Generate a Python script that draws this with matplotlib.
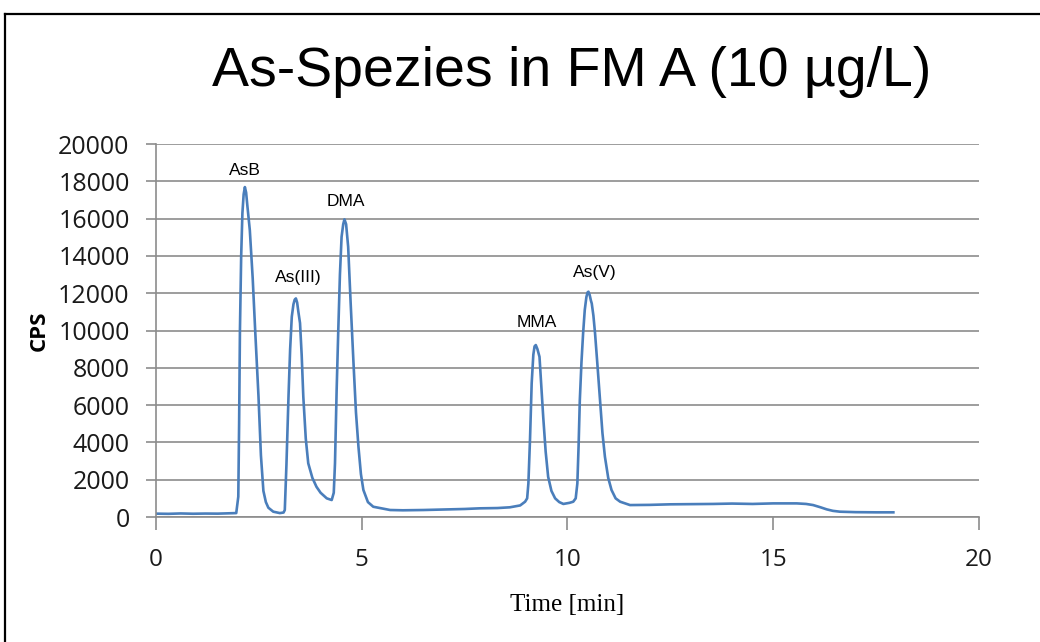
import matplotlib.pyplot as plt
from matplotlib.lines import Line2D

# Chromatogramm-Punkte
time_min = [0.0, 0.3, 0.6, 0.9, 1.2, 1.5, 1.8, 1.95,
            2.0, 2.02, 2.04, 2.07, 2.10, 2.13, 2.16, 2.19, 2.22, 2.28, 2.35, 2.41, 2.49, 2.55, 2.61, 2.67, 2.73, 2.85, 3.01,
            3.10, 3.13, 3.17, 3.22, 3.26, 3.30, 3.34, 3.37, 3.40, 3.43, 3.46, 3.50, 3.54, 3.58, 3.64, 3.70, 3.80, 3.90, 4.00, 4.15, 4.27,
            4.32, 4.35, 4.39, 4.43, 4.47, 4.51, 4.55, 4.58, 4.62, 4.67, 4.73, 4.80, 4.86, 4.92, 4.98, 5.04, 5.15, 5.28, 5.69,
            6.0, 6.5, 7.0, 7.5, 7.87, 8.3, 8.60, 8.85, 8.97,
            9.02, 9.05, 9.09, 9.13, 9.17, 9.20, 9.23, 9.27, 9.32, 9.36, 9.41, 9.47, 9.53, 9.61, 9.70, 9.80, 9.90, 10.05, 10.14,
            10.20, 10.24, 10.27, 10.30, 10.34, 10.38, 10.42, 10.46, 10.49, 10.51, 10.54, 10.57, 10.59, 10.63, 10.67, 10.73, 10.79,
            10.85, 10.91, 10.99, 11.07, 11.17, 11.28, 11.52,
            12.0, 12.5, 13.0, 13.54, 14.0, 14.5, 15.0, 15.57, 15.8, 15.97, 16.15, 16.30, 16.45, 16.62, 17.0, 17.5, 17.92]
cps = [180, 170, 190, 175, 185, 180, 200, 210,
       1090, 5000, 10020, 14000, 16300, 17300, 17690, 17400, 16700, 15380, 12800, 10020, 6500, 3300, 1400, 800, 500, 285, 210,
       240, 375, 2800, 6450, 9000, 10740, 11400, 11650, 11720, 11500, 11000, 10400, 8700, 6450, 4200, 2880, 2100, 1620, 1300, 1000, 910,
       1300, 2880, 6800, 10020, 13000, 15020, 15700, 15960, 15700, 14490, 11500, 8240, 5600, 3770, 2300, 1450, 800, 550, 375,
       360, 375, 400, 430, 465, 480, 520, 620, 820,
       1000, 1800, 4200, 7170, 8700, 9150, 9220, 9000, 8590, 7200, 5380, 3500, 2160, 1400, 1000, 800, 700, 760, 820,
       1000, 1800, 3800, 6270, 8300, 9850, 11100, 11800, 12050, 12080, 11900, 11600, 11450, 10800, 9850, 8100, 6270,
       4500, 3230, 2100, 1450, 1000, 820, 640,
       650, 680, 690, 700, 720, 700, 730, 730, 700, 640, 520, 410, 330, 285, 260, 250, 250]

peaks = ['AsB', 'As(III)', 'DMA', 'MMA', 'As(V)']
peak_t = [2.16, 3.46, 4.62, 9.26, 10.67]
peak_y = [18600, 12860, 16940, 10450, 13130]

fig = plt.figure(figsize=(10.4, 6.42), dpi=100)
ax = fig.add_axes([0.15, 0.1947, 0.7913, 0.581])

ax.plot(time_min, cps, color='#4A7EBB', linewidth=1.9)

for name, t, y in zip(peaks, peak_t, peak_y):
    ax.text(t, y, name, ha='center', va='center', fontsize=12.5,
            family='Liberation Sans', color='black')

ax.set_xlim(0, 20)
ax.set_ylim(0, 20000)
ax.set_xticks([0, 5, 10, 15, 20])
ax.set_yticks(range(0, 20001, 2000))
ax.grid(axis='y', color='#8c8c8c', linewidth=1.2)
ax.set_axisbelow(True)

for s in ['top', 'right']:
    ax.spines[s].set_visible(False)
for s in ['left', 'bottom']:
    ax.spines[s].set_color('#8c8c8c')
    ax.spines[s].set_linewidth(1.2)

ax.tick_params(axis='x', direction='out', length=9, width=1.2, color='#8c8c8c',
               pad=13, labelsize=17.5, labelcolor='#1a1a1a')
ax.tick_params(axis='y', direction='out', length=7, width=1.2, color='#8c8c8c',
               pad=12, labelsize=18, labelcolor='#1a1a1a')
for lab in ax.get_xticklabels() + ax.get_yticklabels():
    lab.set_family('Open Sans')

ax.set_xlabel('Time [min]', family='Liberation Serif', fontsize=18, labelpad=16)
ax.set_ylabel('CPS', family='Open Sans', fontsize=16, fontweight='bold', labelpad=6)

fig.text(0.55, 0.888, 'As-Spezies in FM A (10 µg/L)', ha='center', va='center',
         fontsize=40, family='Liberation Sans')

# Rahmen oben und links
fig.add_artist(Line2D([0.005, 1.0], [0.978, 0.978], color='black', linewidth=1.6))
fig.add_artist(Line2D([0.005, 0.005], [0.0, 0.978], color='black', linewidth=1.6))

plt.savefig('out.png', dpi=100)
